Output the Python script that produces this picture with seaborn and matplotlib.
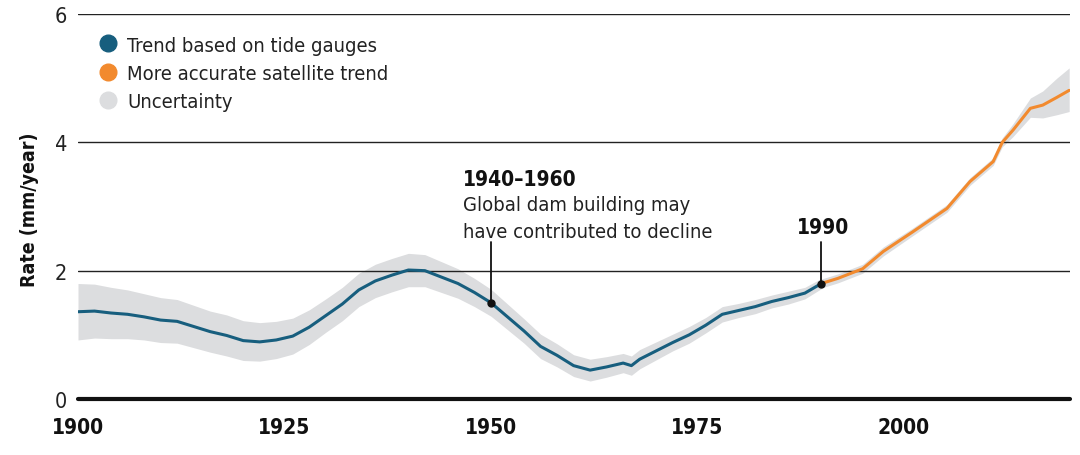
import numpy as np
import pandas as pd
import matplotlib
matplotlib.use("Agg")
import matplotlib.pyplot as plt
from matplotlib.lines import Line2D
from matplotlib import font_manager as fm
import seaborn as sns

# ---------------- data ----------------
tide_years = [1900, 1902, 1904, 1906, 1908, 1910, 1912, 1914, 1916, 1918, 1920, 1922,
              1924, 1926, 1928, 1930, 1932, 1934, 1936, 1938, 1940, 1942, 1944, 1946,
              1948, 1950, 1952, 1954, 1956, 1958, 1960, 1962, 1964, 1966, 1967, 1968,
              1970, 1972, 1974, 1976, 1978, 1980, 1982, 1984, 1986, 1988, 1990]
tide_rate = [1.36, 1.37, 1.34, 1.32, 1.28, 1.23, 1.21, 1.13, 1.05, 0.99, 0.91, 0.89,
             0.92, 0.98, 1.12, 1.30, 1.48, 1.70, 1.84, 1.93, 2.01, 2.00, 1.90, 1.80,
             1.66, 1.50, 1.28, 1.06, 0.82, 0.68, 0.52, 0.45, 0.50, 0.56, 0.52, 0.62,
             0.75, 0.88, 1.00, 1.15, 1.32, 1.38, 1.44, 1.52, 1.58, 1.65, 1.80]
tide_unc = [0.44, 0.42, 0.40, 0.38, 0.36, 0.35, 0.34, 0.33, 0.32, 0.32, 0.31, 0.30,
            0.29, 0.28, 0.27, 0.26, 0.26, 0.26, 0.26, 0.26, 0.26, 0.25, 0.24, 0.23,
            0.22, 0.21, 0.20, 0.19, 0.19, 0.18, 0.17, 0.17, 0.16, 0.15, 0.15, 0.15,
            0.14, 0.13, 0.13, 0.12, 0.12, 0.11, 0.11, 0.10, 0.10, 0.09, 0.08]

sat_years = [1990, 1992, 1995, 1997.5, 2001, 2005.2, 2008, 2010.8, 2011.9, 2013.2,
             2015.3, 2016.8, 2018.5, 2020]
sat_rate = [1.80, 1.88, 2.03, 2.30, 2.60, 2.97, 3.39, 3.70, 4.00, 4.19,
            4.53, 4.58, 4.70, 4.81]
sat_unc_low = [0.07, 0.07, 0.07, 0.07, 0.06, 0.06, 0.06, 0.06, 0.07, 0.10,
               0.14, 0.20, 0.27, 0.33]
sat_unc_high = [0.07, 0.07, 0.07, 0.07, 0.06, 0.06, 0.06, 0.06, 0.07, 0.10,
                0.16, 0.22, 0.30, 0.35]

x_ticks = [1900, 1925, 1950, 1975, 2000]
y_ticks = [0, 2, 4, 6]
legend_labels = ["Trend based on tide gauges", "More accurate satellite trend", "Uncertainty"]

BLUE = "#175e7e"
ORANGE = "#f28a2e"
GREY = "#dcdddf"

# ---------------- style ----------------
sns.set_style("white")
names = {f.name for f in fm.fontManager.ttflist}
condensed = [f for f in fm.fontManager.ttflist
             if f.name == "DejaVu Sans" and str(f.stretch).lower() in ("condensed", "semi-condensed")]
if "Liberation Sans Narrow" in names:
    plt.rcParams["font.family"] = ["Liberation Sans Narrow", "DejaVu Sans"]
else:
    plt.rcParams["font.family"] = ["DejaVu Sans"]
    if condensed:
        plt.rcParams["font.stretch"] = "condensed"

fig = plt.figure(figsize=(10.8, 4.56), dpi=100)
ax = fig.add_axes([78 / 1080, 56 / 456, (1070 - 78) / 1080, (400 - 15) / 456])

tide = pd.DataFrame({"year": tide_years, "rate": tide_rate, "unc": tide_unc})
sat = pd.DataFrame({"year": sat_years, "rate": sat_rate,
                    "lo": sat_unc_low, "hi": sat_unc_high})

ax.fill_between(tide["year"], tide["rate"] - tide["unc"], tide["rate"] + tide["unc"],
                color=GREY, lw=0, zorder=1)
ax.fill_between(sat["year"], sat["rate"] - sat["lo"], sat["rate"] + sat["hi"],
                color=GREY, lw=0, zorder=1)

sns.lineplot(data=tide, x="year", y="rate", color=BLUE, lw=2.2, ax=ax, zorder=3)
sns.lineplot(data=sat, x="year", y="rate", color=ORANGE, lw=2.2, ax=ax, zorder=3)

for y in y_ticks[1:]:
    ax.axhline(y, color="#222222", lw=1.0, zorder=2)
ax.axhline(0, color="#111111", lw=3, zorder=4, clip_on=False)

ax.set_xlim(1900, 2020.1)
ax.set_ylim(0, 6)
for s in ax.spines.values():
    s.set_visible(False)

fs = 14.5
ax.set_xticks(x_ticks)
ax.set_xticklabels([str(t) for t in x_ticks], fontsize=15, fontweight="bold", color="#111111")
ax.tick_params(axis="x", direction="out", length=10, width=1.2, color="#111111", pad=3)
ax.set_yticks(y_ticks)
ax.set_yticklabels([str(t) for t in y_ticks], fontsize=15.5, color="#222222")
ax.tick_params(axis="y", length=0, pad=8)
ax.set_xlabel("")
ax.set_ylabel("")

fig.text(30 / 1080, 1 - 210 / 456, "Rate (mm/year)", rotation=90, ha="center", va="center",
         fontsize=14, fontweight="bold", color="#111111")

ax.plot([1950, 1950], [2.45, tide_rate[tide_years.index(1950)]], color="#111111", lw=1.3, zorder=5)
ax.plot([1950], [tide_rate[tide_years.index(1950)]], "o", color="#111111", ms=5, zorder=6)
ax.plot([1990, 1990], [2.45, sat_rate[0]], color="#111111", lw=1.3, zorder=5)
ax.plot([1990], [sat_rate[0]], "o", color="#111111", ms=5, zorder=6)

ax.text(1946.6, 3.34, "1940–1960", fontsize=15, fontweight="bold", color="#111111", va="baseline")
ax.text(1946.6, 2.94, "Global dam building may", fontsize=fs, color="#222222", va="baseline")
ax.text(1946.6, 2.53, "have contributed to decline", fontsize=fs, color="#222222", va="baseline")
ax.text(1990.2, 2.58, "1990", fontsize=15, fontweight="bold", color="#111111", va="baseline", ha="center")

handles = [Line2D([], [], marker="o", ls="", color=c, markersize=12)
           for c in (BLUE, ORANGE, GREY)]
leg = ax.legend(handles, legend_labels, loc="upper left", bbox_to_anchor=(0.012, 0.965),
                frameon=False, fontsize=fs, handlelength=1.0, handletextpad=0.45,
                labelspacing=0.45, borderaxespad=0)
for t in leg.get_texts():
    t.set_color("#222222")

fig.savefig("out.png", dpi=100)
